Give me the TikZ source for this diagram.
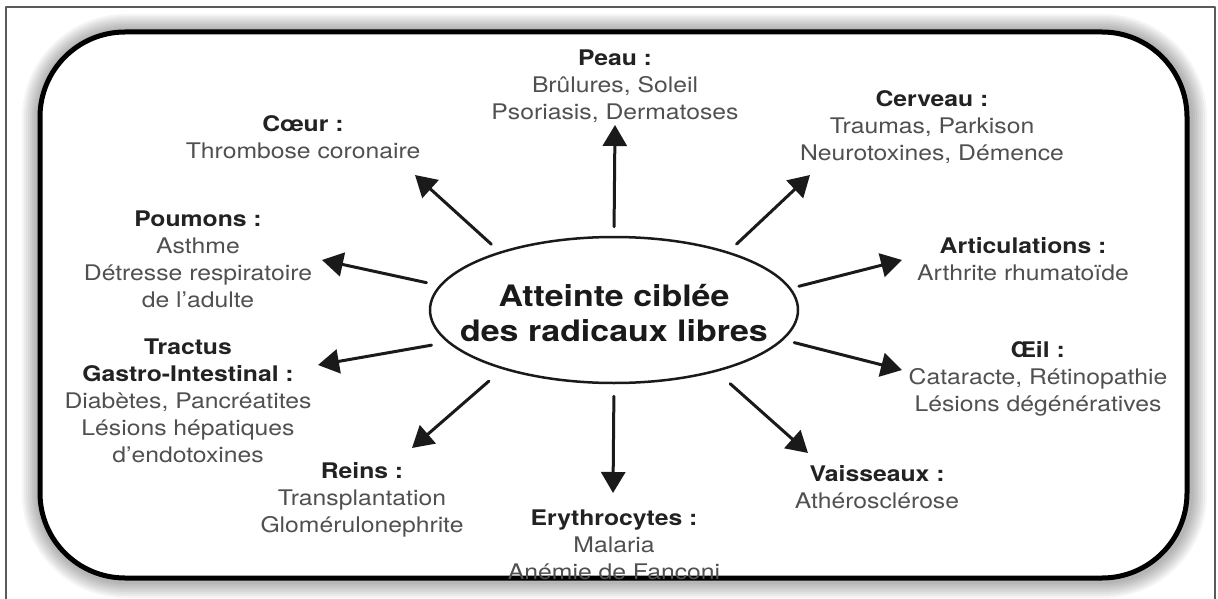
\documentclass[tikz,border=0pt]{standalone}
\usepackage{fontspec}
\setmainfont{TeX Gyre Heros}[FakeStretch=1.15]
\usetikzlibrary{arrows.meta,shapes.geometric}
\definecolor{Encre}{HTML}{1A1A1A}
\definecolor{Titre}{HTML}{222222}
\definecolor{Corps}{HTML}{505050}
\definecolor{Cadre}{HTML}{5A5A5A}
\newcommand{\titre}[1]{{\bfseries\color{Titre}#1}}
\tikzset{
  organe/.style={align=center,inner sep=0pt,text=Corps,
    font=\fontsize{21.5}{27}\selectfont},
  fleche/.style={-{Triangle[length=21pt,width=24pt]},line width=3pt,Encre},
}

\begin{document}
\begin{tikzpicture}[x=1pt,y=-1pt,line cap=round,line join=round]
  \useasboundingbox (0,0) rectangle (1218,599);
  \fill[white] (0,0) rectangle (1218,599);
  \draw[Cadre,line width=1.2pt] (6,7) rectangle (1215,620);
  % cadre arrondi et son ombre
  \foreach \w in {38,34,30,26,22,18,14,10} {
    \draw[black,opacity=0.04,line width=\w pt,rounded corners=85pt]
      (41,33) rectangle (1188,579);
  }
  \fill[white,rounded corners=85pt] (40,32) rectangle (1187,578);
  \draw[black,line width=5pt,rounded corners=85pt] (40,32) rectangle (1187,578);
  % centre
  \node[ellipse,draw=Encre,line width=2.5pt,minimum width=368pt,
        minimum height=146pt,inner sep=0pt] (cible) at (614,310) {};
  \node[text=Encre,align=center,inner sep=0pt,
        font=\fontsize{29.5}{35}\selectfont\bfseries] (ciblet) at (614,313)
    {Atteinte ciblée\\des radicaux libres};
  % organes
  \node[organe] (peau) at (615,86)
    {\titre{Peau :}\\Brûlures, Soleil\\Psoriasis, Dermatoses};
  \node[organe] (coeur) at (303,137.5)
    {\titre{Cœur :}\\Thrombose coronaire};
  \node[organe] (poumons) at (198,259)
    {\titre{Poumons :}\\Asthme\\Détresse respiratoire\\de l’adulte};
  \node[organe] (tractus) at (188,401)
    {\titre{Tractus}\\\titre{Gastro-Intestinal :}\\Diabètes, Pancréatites\\
     Lésions hépatiques\\d’endotoxines};
  \node[organe] (reins) at (362,500)
    {\titre{Reins :}\\Transplantation\\Glomérulonephrite};
  \node[organe] (erythro) at (614,545)
    {\titre{Erythrocytes :}\\Malaria\\Anémie de Fanconi};
  \node[organe] (vaisseaux) at (877,487.5)
    {\titre{Vaisseaux :}\\Athérosclérose};
  \node[organe] (oeil) at (1038,378.5)
    {\titre{Œil :}\\Cataracte, Rétinopathie\\Lésions dégénératives};
  \node[organe] (articul) at (1023,259)
    {\titre{Articulations :}\\Arthrite rhumatoïde};
  \node[organe] (cerveau) at (932,127)
    {\titre{Cerveau :}\\Traumas, Parkison\\Neurotoxines, Démence};
  % pointes des fleches
  \coordinate (bPeau) at (615,125);
  \coordinate (bCoeur) at (415,175);
  \coordinate (bPoumons) at (322,260);
  \coordinate (bTractus) at (318,365);
  \coordinate (bReins) at (412,448);
  \coordinate (bErythro) at (613,493);
  \coordinate (bVaisseaux) at (808,453);
  \coordinate (bOeil) at (902,370);
  \coordinate (bArticul) at (902,260);
  \coordinate (bCerveau) at (810,175);
  \foreach \a/\g/\b in {90/9/bPeau,153/11/bCoeur,172/13/bPoumons,
      191/16/bTractus,208/18/bReins,270/12/bErythro,-31/18/bVaisseaux,
      -10/11/bOeil,7/8/bArticul,27/11/bCerveau}
    \draw[fleche,shorten <=\g pt] (cible.\a) -- (\b);
\end{tikzpicture}
\end{document}
